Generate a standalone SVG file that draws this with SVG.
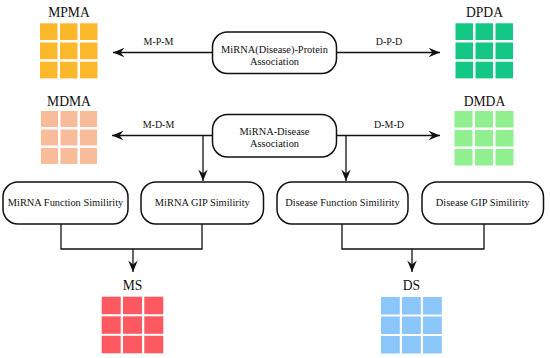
<svg xmlns="http://www.w3.org/2000/svg" width="550" height="358" viewBox="0 0 550 358">
<style>
text{font-family:"Liberation Serif","Times New Roman",serif;fill:#111}
.t{font-size:13.6px;text-anchor:middle}
.b{font-size:10.4px;text-anchor:middle}
.l{font-size:10px;text-anchor:middle}
.box{fill:#fff;stroke:#111;stroke-width:1.5}
.c{fill:none;stroke:#111;stroke-width:1.3}
.or{fill:#FBB82B}.gr{fill:#14C784}.pe{fill:#F9BC9B}.lg{fill:#90F090}.rd{fill:#FE5861}.bl{fill:#8AC6FA}
</style>
<defs>
<marker id="ah" viewBox="0 0 12 10" refX="12" refY="5" markerWidth="12" markerHeight="9.5" markerUnits="userSpaceOnUse" orient="auto">
<path d="M0,0 L12,5 L0,10 L4,5 z" fill="#111"/>
</marker>
</defs>
<g id="connectors">
<line class="c" x1="212" y1="52.5" x2="113" y2="52.5" marker-end="url(#ah)"/>
<line class="c" x1="337" y1="52.5" x2="440" y2="52.5" marker-end="url(#ah)"/>
<line class="c" x1="212" y1="135.5" x2="112" y2="135.5" marker-end="url(#ah)"/>
<line class="c" x1="337" y1="135.5" x2="440" y2="135.5" marker-end="url(#ah)"/>
<line class="c" x1="203" y1="135.5" x2="203" y2="181" marker-end="url(#ah)"/>
<line class="c" x1="346" y1="135.5" x2="346" y2="181" marker-end="url(#ah)"/>
<path class="c" d="M61,224 V249 H202 V224"/>
<line class="c" x1="133" y1="249" x2="133" y2="272" marker-end="url(#ah)"/>
<path class="c" d="M342,224 V249 H484 V224"/>
<line class="c" x1="412" y1="249" x2="412" y2="272" marker-end="url(#ah)"/>
<text class="l" x="158.5" y="45">M-P-M</text>
<text class="l" x="389" y="45">D-P-D</text>
<text class="l" x="158.5" y="128">M-D-M</text>
<text class="l" x="389" y="128">D-M-D</text>
</g>
<g id="protein-assoc">
<rect class="box" x="212.5" y="32" width="124" height="41.5" rx="15"/>
<text class="b" x="274.5" y="52.5">MiRNA(Disease)-Protein</text>
<text class="b" x="274.5" y="64.5">Association</text>
</g>
<g id="disease-assoc">
<rect class="box" x="212.5" y="114.5" width="124" height="42.5" rx="15"/>
<text class="b" x="274.5" y="134.5">MiRNA-Disease</text>
<text class="b" x="274.5" y="147">Association</text>
</g>
<g id="mirna-func">
<rect class="box" x="3" y="182" width="125" height="42" rx="15"/>
<text class="b" x="65.5" y="206">MiRNA Function Similirity</text>
</g>
<g id="mirna-gip">
<rect class="box" x="141" y="182" width="122.5" height="42" rx="15"/>
<text class="b" x="202.3" y="206">MiRNA GIP Similirity</text>
</g>
<g id="disease-func">
<rect class="box" x="277" y="182" width="131" height="42" rx="15"/>
<text class="b" x="342.5" y="206">Disease Function Similirity</text>
</g>
<g id="disease-gip">
<rect class="box" x="422" y="182" width="121.5" height="42" rx="15"/>
<text class="b" x="482.7" y="206">Disease GIP Similirity</text>
</g>
<g id="MPMA">
<text class="t" x="69" y="17.3">MPMA</text>
<g class="or">
<rect x="40" y="23.3" width="17.5" height="16.7"/><rect x="60" y="23.3" width="17.5" height="16.7"/><rect x="80" y="23.3" width="17.5" height="16.7"/>
<rect x="40" y="42.5" width="17.5" height="16.7"/><rect x="60" y="42.5" width="17.5" height="16.7"/><rect x="80" y="42.5" width="17.5" height="16.7"/>
<rect x="40" y="61.7" width="17.5" height="16.7"/><rect x="60" y="61.7" width="17.5" height="16.7"/><rect x="80" y="61.7" width="17.5" height="16.7"/>
</g>
</g>
<g id="DPDA">
<text class="t" x="484.5" y="17.3">DPDA</text>
<g class="gr">
<rect x="455.5" y="23.3" width="17.5" height="16.7"/><rect x="475.5" y="23.3" width="17.5" height="16.7"/><rect x="495.5" y="23.3" width="17.5" height="16.7"/>
<rect x="455.5" y="42.5" width="17.5" height="16.7"/><rect x="475.5" y="42.5" width="17.5" height="16.7"/><rect x="495.5" y="42.5" width="17.5" height="16.7"/>
<rect x="455.5" y="61.7" width="17.5" height="16.7"/><rect x="475.5" y="61.7" width="17.5" height="16.7"/><rect x="495.5" y="61.7" width="17.5" height="16.7"/>
</g>
</g>
<g id="MDMA">
<text class="t" x="69" y="106">MDMA</text>
<g class="pe">
<rect x="41" y="111" width="17" height="16"/><rect x="60.5" y="111" width="17" height="16"/><rect x="80" y="111" width="17" height="16"/>
<rect x="41" y="129.5" width="17" height="16"/><rect x="60.5" y="129.5" width="17" height="16"/><rect x="80" y="129.5" width="17" height="16"/>
<rect x="41" y="148" width="17" height="16"/><rect x="60.5" y="148" width="17" height="16"/><rect x="80" y="148" width="17" height="16"/>
</g>
</g>
<g id="DMDA">
<text class="t" x="484.5" y="106">DMDA</text>
<g class="lg">
<rect x="454.5" y="111" width="18" height="16.5"/><rect x="475" y="111" width="18" height="16.5"/><rect x="495.5" y="111" width="18" height="16.5"/>
<rect x="454.5" y="130" width="18" height="16.5"/><rect x="475" y="130" width="18" height="16.5"/><rect x="495.5" y="130" width="18" height="16.5"/>
<rect x="454.5" y="149" width="18" height="16.5"/><rect x="475" y="149" width="18" height="16.5"/><rect x="495.5" y="149" width="18" height="16.5"/>
</g>
</g>
<g id="MS">
<text class="t" x="132.5" y="290">MS</text>
<g class="rd">
<rect x="101.7" y="296.7" width="19" height="17.5"/><rect x="123" y="296.7" width="19" height="17.5"/><rect x="144.3" y="296.7" width="19" height="17.5"/>
<rect x="101.7" y="316.3" width="19" height="17.5"/><rect x="123" y="316.3" width="19" height="17.5"/><rect x="144.3" y="316.3" width="19" height="17.5"/>
<rect x="101.7" y="335.8" width="19" height="17.5"/><rect x="123" y="335.8" width="19" height="17.5"/><rect x="144.3" y="335.8" width="19" height="17.5"/>
</g>
</g>
<g id="DS">
<text class="t" x="411.5" y="290">DS</text>
<g class="bl">
<rect x="381" y="297" width="18.8" height="17.5"/><rect x="402" y="297" width="18.8" height="17.5"/><rect x="423" y="297" width="18.8" height="17.5"/>
<rect x="381" y="316.5" width="18.8" height="17.5"/><rect x="402" y="316.5" width="18.8" height="17.5"/><rect x="423" y="316.5" width="18.8" height="17.5"/>
<rect x="381" y="336" width="18.8" height="17.5"/><rect x="402" y="336" width="18.8" height="17.5"/><rect x="423" y="336" width="18.8" height="17.5"/>
</g>
</g>
</svg>
